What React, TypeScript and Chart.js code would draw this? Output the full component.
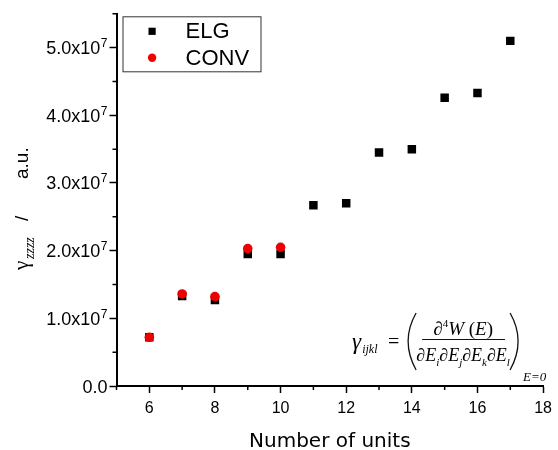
import { useEffect, useRef } from 'react';
import { Chart, registerables } from 'chart.js';

Chart.register(...registerables);

// ---- data ----
const elgUnits = [6, 7, 8, 9, 10, 11, 12, 13, 14, 15, 16, 17];
const elgValues = [0.72e7, 1.33e7, 1.27e7, 1.95e7, 1.95e7, 2.67e7, 2.70e7, 3.45e7, 3.50e7, 4.26e7, 4.33e7, 5.10e7];
const convUnits = [6, 7, 8, 9, 10];
const convValues = [0.72e7, 1.36e7, 1.32e7, 2.03e7, 2.05e7];
const seriesLabels = ['ELG', 'CONV'];
const xMin = 5;
const xMax = 18;
const yMin = 0;
const yMax = 5.5e7;
const xTitle = 'Number of units';

const SANS = "'Liberation Sans', 'DejaVu Sans', Arial, sans-serif";
const SERIF = "'Liberation Serif', 'DejaVu Serif', serif";

const isMajorY = (v: number) => Math.abs(v / 1e7 - Math.round(v / 1e7)) < 1e-6;
const isMajorX = (v: number) => Math.round(v) % 2 === 0;

function drawSeq(ctx: CanvasRenderingContext2D, x: number, y: number, parts: { t: string; f: string; dy?: number }[], measureOnly = false) {
  let cx = x;
  for (const p of parts) {
    ctx.font = p.f;
    if (!measureOnly) ctx.fillText(p.t, cx, y + (p.dy || 0));
    cx += ctx.measureText(p.t).width;
  }
  return cx - x;
}

const decorPlugin = {
  id: 'decor',
  afterDraw(chart: any) {
    const ctx: CanvasRenderingContext2D = chart.ctx;
    const xs = chart.scales.x;
    const ys = chart.scales.y;
    const ca = chart.chartArea;
    ctx.save();
    ctx.strokeStyle = '#000';
    ctx.fillStyle = '#000';
    ctx.lineWidth = 1.5;
    // minor ticks
    ctx.beginPath();
    for (let v = xMin; v <= xMax; v += 1) {
      if (isMajorX(v)) continue;
      const px = xs.getPixelForValue(v);
      ctx.moveTo(px, ca.bottom);
      ctx.lineTo(px, ca.bottom + 4);
    }
    for (let i = 0; i * 0.5e7 <= yMax + 1; i++) {
      const v = i * 0.5e7;
      if (isMajorY(v)) continue;
      const py = ys.getPixelForValue(v);
      ctx.moveTo(ca.left - 4, py);
      ctx.lineTo(ca.left, py);
    }
    ctx.stroke();

    // y tick labels with superscript exponent
    ctx.textBaseline = 'alphabetic';
    ctx.textAlign = 'left';
    for (const t of ys.ticks) {
      const v = Number(t.value);
      if (!isMajorY(v)) continue;
      const py = ys.getPixelForValue(v) + 6.5;
      const rightX = ca.left - 9;
      if (v === 0) {
        ctx.font = `18px ${SANS}`;
        const w = ctx.measureText('0.0').width;
        ctx.fillText('0.0', rightX - w, py);
        continue;
      }
      const main = `${(v / 1e7).toFixed(1)}x10`;
      ctx.font = `18px ${SANS}`;
      const mw = ctx.measureText(main).width;
      ctx.font = `12px ${SANS}`;
      const sw = ctx.measureText('7').width;
      const sx = rightX - sw;
      ctx.fillText('7', sx, py - 7);
      ctx.font = `18px ${SANS}`;
      ctx.fillText(main, sx - mw - 0.5, py);
    }

    // legend
    const lx = ca.left + 6, ly = ca.top + 2.5, lw = 138, lh = 55;
    ctx.lineWidth = 1;
    ctx.strokeStyle = '#333';
    ctx.strokeRect(lx + 0.5, ly + 0.5, lw, lh);
    const dsets = chart.data.datasets;
    for (let i = 0; i < dsets.length; i++) {
      const ds = dsets[i];
      const my = ly + 15 + i * 26.5;
      ctx.fillStyle = ds.backgroundColor;
      if (ds.pointStyle === 'rect') {
        ctx.fillRect(lx + 26, my - 3.6, 7.2, 7.2);
      } else {
        ctx.beginPath();
        ctx.arc(lx + 29.6, my, 4.2, 0, Math.PI * 2);
        ctx.fill();
      }
      ctx.fillStyle = '#000';
      ctx.font = `22px ${SANS}`;
      ctx.textAlign = 'left';
      ctx.textBaseline = 'middle';
      ctx.fillText(ds.label, lx + 63, my + 1);
    }

    // x title
    ctx.fillStyle = '#000';
    ctx.textAlign = 'center';
    ctx.textBaseline = 'alphabetic';
    ctx.font = `20px 'DejaVu Sans', sans-serif`;
    ctx.fillText(xTitle, (ca.left + ca.right) / 2, 447);

    // y title (rotated)
    ctx.save();
    ctx.translate(27.5, 270);
    ctx.rotate(-Math.PI / 2);
    ctx.textAlign = 'left';
    ctx.textBaseline = 'alphabetic';
    ctx.font = `21px ${SERIF}`;
    ctx.fillText('\u03B3', 0, 0);
    ctx.font = `italic 14px ${SERIF}`;
    ctx.fillText('zzzz', 11, 6);
    ctx.font = `19px ${SANS}`;
    ctx.fillText('/', 49, 0);
    ctx.fillText('a.u.', 91, 0);
    ctx.restore();

    // formula
    ctx.textAlign = 'left';
    ctx.textBaseline = 'alphabetic';
    const R = ca.right, B = ca.bottom; // anchor
    const fx = (d: number) => R + d;
    const fy = (d: number) => B + d;
    ctx.font = `italic 23px ${SERIF}`;
    const gw = ctx.measureText('\u03B3').width;
    ctx.fillText('\u03B3', fx(-191), fy(-37));
    ctx.font = `italic 12px ${SERIF}`;
    ctx.fillText('ijkl', fx(-191) + gw + 1, fy(-33));
    ctx.font = `20px ${SERIF}`;
    ctx.fillText('=', fx(-155), fy(-38));
    // parentheses
    ctx.lineWidth = 1.3;
    ctx.strokeStyle = '#111';
    ctx.beginPath();
    ctx.moveTo(fx(-127), fy(-73));
    ctx.quadraticCurveTo(fx(-143), fy(-45), fx(-127), fy(-16));
    ctx.moveTo(fx(-33), fy(-73));
    ctx.quadraticCurveTo(fx(-17), fy(-45), fx(-33), fy(-16));
    ctx.stroke();
    // fraction
    const cx = fx(-80);
    const numParts = [
      { t: '\u2202', f: `19px ${SERIF}` },
      { t: '4', f: `11px ${SERIF}`, dy: -8 },
      { t: 'W', f: `italic 19px ${SERIF}` },
      { t: ' (', f: `19px ${SERIF}` },
      { t: 'E', f: `italic 19px ${SERIF}` },
      { t: ')', f: `19px ${SERIF}` },
    ];
    const nw = drawSeq(ctx, 0, 0, numParts, true);
    drawSeq(ctx, cx - nw / 2, fy(-51), numParts);
    ctx.lineWidth = 1;
    ctx.beginPath();
    ctx.moveTo(fx(-121), fy(-46.5));
    ctx.lineTo(fx(-38), fy(-46.5));
    ctx.stroke();
    const denParts: { t: string; f: string; dy?: number }[] = [];
    ['i', 'j', 'k', 'l'].forEach((s) => {
      denParts.push({ t: '\u2202', f: `18px ${SERIF}` });
      denParts.push({ t: 'E', f: `italic 18px ${SERIF}` });
      denParts.push({ t: s, f: `italic 11px ${SERIF}`, dy: 5 });
    });
    const dw = drawSeq(ctx, 0, 0, denParts, true);
    drawSeq(ctx, cx - dw / 2, fy(-25), denParts);
    ctx.font = `italic 13px ${SERIF}`;
    ctx.fillText('E=0', fx(-20), fy(-5));

    ctx.restore();
  },
};

export default function App() {
  const ref = useRef<HTMLCanvasElement>(null);
  useEffect(() => {
    if (!ref.current) return;
    const chart = new Chart(ref.current, {
      type: 'scatter',
      data: {
        datasets: [
          {
            label: seriesLabels[0],
            data: elgUnits.map((x, i) => ({ x, y: elgValues[i] })),
            pointStyle: 'rect',
            radius: 6,
            backgroundColor: '#000000',
            borderColor: '#000000',
            borderWidth: 0,
            order: 2,
          },
          {
            label: seriesLabels[1],
            data: convUnits.map((x, i) => ({ x, y: convValues[i] })),
            pointStyle: 'circle',
            radius: 4.8,
            backgroundColor: '#ee0000',
            borderColor: '#ee0000',
            borderWidth: 0,
            order: 1,
          },
        ] as any,
      },
      options: {
        animation: false,
        responsive: false,
        devicePixelRatio: 1,
        layout: { padding: { left: 0, top: 11.5, right: 12, bottom: 0 } },
        plugins: { legend: { display: false }, tooltip: { enabled: false } },
        scales: {
          x: {
            type: 'linear',
            min: xMin,
            max: xMax,
            afterFit: (s: any) => { s.height = 64; },
            border: { display: true, color: '#000', width: 2 },
            grid: {
              display: true,
              drawOnChartArea: false,
              drawTicks: true,
              tickLength: 7,
              tickWidth: 1.5,
              tickColor: (c: any) => (c.tick && isMajorX(c.tick.value) ? '#000' : 'rgba(0,0,0,0)'),
            },
            ticks: {
              stepSize: 1,
              autoSkip: false,
              maxRotation: 0,
              padding: 6,
              color: '#000',
              font: { family: SANS, size: 16 },
              callback: (v: any) => (isMajorX(Number(v)) ? String(v) : ''),
            },
          },
          y: {
            type: 'linear',
            min: yMin,
            max: yMax,
            afterFit: (s: any) => { s.width = 116.5; },
            border: { display: true, color: '#000', width: 2 },
            grid: {
              display: true,
              drawOnChartArea: false,
              drawTicks: true,
              tickLength: 7,
              tickWidth: 1.5,
              tickColor: (c: any) => (c.tick && isMajorY(c.tick.value) ? '#000' : 'rgba(0,0,0,0)'),
            },
            ticks: {
              stepSize: 0.5e7,
              autoSkip: false,
              padding: 3,
              color: 'rgba(0,0,0,0)',
              font: { family: SANS, size: 18 },
              callback: () => '',
            },
          },
        },
      } as any,
      plugins: [decorPlugin],
    });
    return () => chart.destroy();
  }, []);
  return (
    <div style={{ position: 'absolute', left: 0, top: 0, width: 558, height: 450, background: '#fff' }}>
      <canvas ref={ref} width={558} height={450} style={{ width: 558, height: 450, display: 'block' }} />
    </div>
  );
}
